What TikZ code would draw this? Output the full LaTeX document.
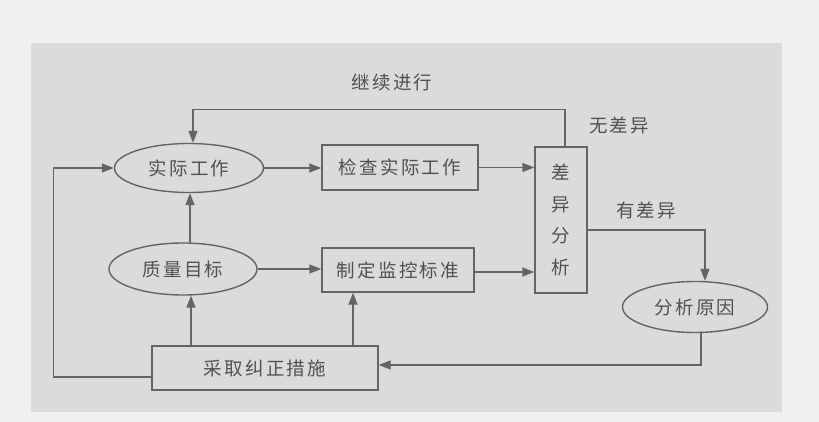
\documentclass[tikz,border=0pt]{standalone}
\usepackage{fontspec}
\newfontfamily\cjk{Noto Sans CJK SC}
\usetikzlibrary{arrows.meta,shapes.geometric}
\definecolor{outerbg}{RGB}{240,240,240}
\definecolor{panelbg}{RGB}{219,219,219}
\definecolor{linec}{RGB}{100,100,100}
\definecolor{textc}{RGB}{80,80,80}
\begin{document}
\begin{tikzpicture}[x=1pt,y=-1pt,
  every node/.style={font=\cjk\addfontfeature{LetterSpace=12}\fontsize{18.5}{21}\selectfont, text=textc},
  boxnode/.style={draw=linec, line width=1.4pt, inner sep=0pt},
  ovalnode/.style={ellipse, draw=linec, line width=1.4pt, inner sep=0pt},
  arr/.style={draw=linec, line width=1.4pt, -{Triangle[length=12pt,width=9pt]}},
  plain/.style={draw=linec, line width=1.4pt}]
\useasboundingbox (0,0) rectangle (819,422);
\fill[outerbg] (0,0) rectangle (819,422);
\fill[panelbg] (31,43) rectangle (782,412);

\node[ovalnode, minimum width=149pt, minimum height=49pt] (shiji) at (189,168) {实际工作};
\node[boxnode, minimum width=156pt, minimum height=45pt] (jiancha) at (400,167.5) {检查实际工作};
\node[boxnode, minimum width=52pt, minimum height=146pt, align=center,
      font=\cjk\fontsize{18.5}{31.5}\selectfont] (diff) at (561,220) {差\\异\\分\\析};
\node[ovalnode, minimum width=148pt, minimum height=52pt] (mubiao) at (183,269) {质量目标};
\node[boxnode, minimum width=152pt, minimum height=44pt] (zhiding) at (398,270) {制定监控标准};
\node[boxnode, minimum width=226pt, minimum height=44pt] (jiuzheng) at (265,368) {采取纠正措施};
\node[ovalnode, minimum width=145pt, minimum height=51pt] (yuanyin) at (695,307) {分析原因};

\node (lbljixu) at (392,82) {继续进行};
\node (lblwu) at (619,125) {无差异};
\node (lblyou) at (646,210) {有差异};

\draw[arr] ([xshift=4pt]diff.north) -- ++(0,-37) -| ([xshift=4pt]shiji.north);
\draw[arr] (shiji.east) -- (shiji.east -| jiancha.west);
\draw[arr] (jiancha.east) -- (jiancha.east -| diff.west);
\draw[arr] (mubiao.east) -- (mubiao.east -| zhiding.west);
\draw[arr] ([yshift=-2pt]zhiding.east) -- ([yshift=-2pt]zhiding.east -| diff.west);
\draw[arr] ([yshift=-10pt]diff.east) -| ([xshift=10pt]yuanyin.north);
\draw[arr] ([xshift=6pt]yuanyin.south) |- ([yshift=3pt]jiuzheng.east);
\draw[arr] ([yshift=-9pt]jiuzheng.west) -- ++(-98,0) |- (shiji.west);
\draw[arr] ([xshift=-74pt]jiuzheng.north) -- ([xshift=8pt]mubiao.south);
\draw[arr] ([xshift=88pt]jiuzheng.north) -- ([xshift=-45pt]zhiding.south);
\draw[arr] ([xshift=7pt]mubiao.north) -- ([xshift=1pt]shiji.south);
\end{tikzpicture}
\end{document}
